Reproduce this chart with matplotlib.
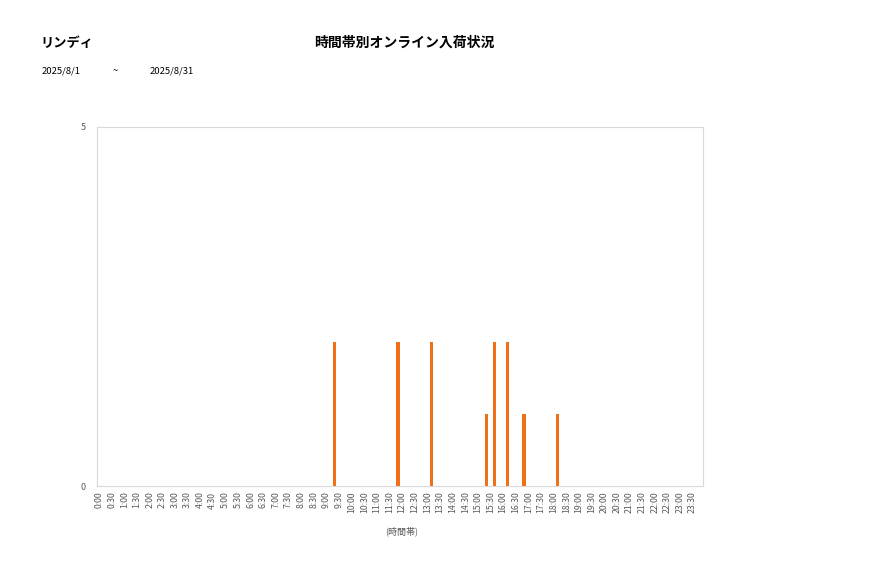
import numpy as np
import matplotlib
matplotlib.use("Agg")
import matplotlib.pyplot as plt

plt.rcParams['font.family'] = ['Noto Sans CJK JP', 'DejaVu Sans']

# 10-minute slots over one day
slots = [f"{h}:{m:02d}" for h in range(24) for m in range(0, 60, 10)]
# arrivals per slot (only non-zero slots listed)
hit_slots = ["9:20", "11:50", "13:10", "15:20", "15:40", "16:10", "16:50", "18:10"]
hit_counts = [2, 2, 2, 1, 2, 2, 1, 1]

counts = np.zeros(len(slots))
for s, c in zip(hit_slots, hit_counts):
    counts[slots.index(s)] = c

shop = "リンディ"
title = "時間帯別オンライン入荷状況"
date_from = "2025/8/1"
date_to = "2025/8/31"

fig = plt.figure(figsize=(8.77, 5.78), dpi=100)
ax = fig.add_axes([97/877, 1 - 486/578, 606/877, 359/578])

x = np.arange(len(slots))
ax.bar(x, counts, width=0.8, color="#f07018")

ax.set_xlim(-0.5, len(slots) - 0.5)
ax.set_ylim(0, 5)
ax.set_yticks([0, 5])
ax.set_yticklabels(["0", "5"], fontsize=6.5, color="#595959")
ax.set_xticks(x[::3])
ax.set_xticklabels(slots[::3], rotation=90, fontsize=6.3, color="#595959")
ax.tick_params(length=0, pad=4)
ax.tick_params(axis='y', pad=8)
for sp in ax.spines.values():
    sp.set_color("#d9d9d9")
    sp.set_linewidth(0.8)

fig.text(402/877, 1 - 531/578, "(時間帯)", fontsize=6.5, color="#595959",
         ha="center", va="center")

fig.text(40/877, 1 - 43/578, shop, fontsize=9.5, fontweight="bold", va="center")
fig.text(404/877, 1 - 43/578, title, fontsize=10, fontweight="bold",
         ha="center", va="center")
fig.text(42/877, 1 - 71/578, date_from, fontsize=6.8, va="center")
fig.text(113/877, 1 - 71/578, "~", fontsize=6.8, va="center")
fig.text(150/877, 1 - 71/578, date_to, fontsize=6.8, va="center")

fig.savefig("out.png", dpi=100)
